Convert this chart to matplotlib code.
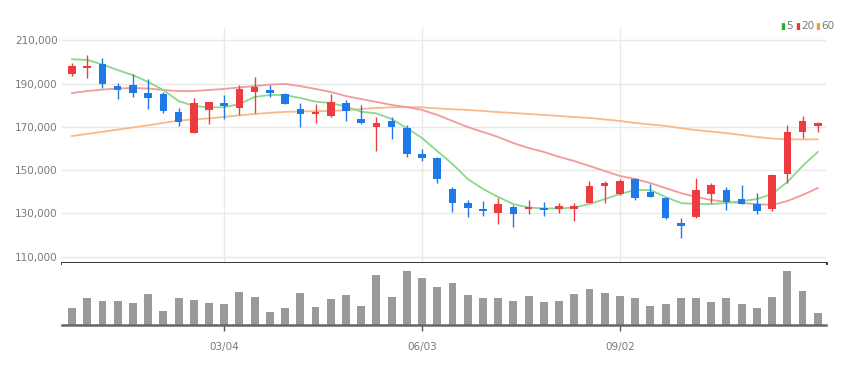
import numpy as np
from matplotlib import pyplot as plt

# weekly candles, 50 weeks
opens = [194300, 197000, 198900, 189000, 189300, 185500, 185000, 177000, 167300, 177900,
         180900, 178500, 185900, 187000, 185000, 178200, 175900, 175000, 180900, 173600,
         170000, 172800, 169300, 157400, 155500, 141300, 134700, 132000, 130000, 133100,
         131900, 132400, 131900, 131900, 134900, 142800, 139000, 145700, 140000, 137300,
         125400, 128200, 138800, 140800, 136500, 134200, 131900, 148100, 167700, 170500]
highs = [199500, 203200, 201600, 190100, 194400, 191900, 186200, 178500, 183400, 181500,
         184700, 189300, 193100, 189300, 185500, 180900, 180400, 185200, 182400, 180000,
         174700, 174700, 170800, 159700, 156200, 142300, 136200, 135900, 137000, 133900,
         136200, 135400, 134900, 134900, 145100, 145100, 145700, 146200, 143600, 137700,
         127700, 146200, 143900, 142300, 143100, 139300, 148100, 170800, 175100, 172400]
lows = [193500, 192700, 187800, 182700, 183900, 178200, 176500, 170400, 167000, 171300,
        173600, 175500, 176200, 183900, 180500, 170000, 171900, 174700, 172700, 171500,
        159000, 164400, 155900, 154200, 144200, 130800, 128500, 128900, 125100, 123900,
        129700, 128900, 130000, 126600, 134700, 134900, 138500, 136200, 137400, 127300,
        118800, 127700, 134700, 131600, 134300, 129700, 131100, 144200, 165000, 167700]
closes = [198200, 198200, 189800, 187000, 185800, 183400, 177400, 172400, 180900, 181300,
          179800, 187300, 188500, 185800, 180500, 175800, 177000, 181300, 177300, 171600,
          171600, 169800, 157400, 155500, 145700, 134900, 132400, 131000, 134200, 129700,
          132800, 131600, 133400, 133400, 142800, 143900, 145100, 137000, 137400, 128000,
          124200, 140800, 143100, 135100, 134300, 131200, 147700, 167500, 172700, 171600]
volumes = [173, 267, 240, 240, 217, 310, 140, 273, 250, 223,
           207, 333, 283, 133, 167, 323, 183, 257, 303, 190,
           500, 283, 540, 473, 383, 423, 303, 273, 267, 240,
           290, 233, 240, 307, 357, 317, 290, 273, 190, 207,
           273, 267, 233, 267, 207, 167, 283, 540, 340, 123]

ma5 = [201200, 200900, 198800, 196200, 193900, 190700, 187000, 181900, 179600, 179000,
       179000, 180500, 183800, 184700, 184700, 183300, 181600, 181000, 179300, 177000,
       176200, 173600, 169400, 164800, 158800, 152800, 145900, 141300, 137600, 134300,
       132700, 132300, 132300, 132700, 134300, 136600, 139000, 140800, 140800, 137600,
       134800, 134300, 134300, 134800, 135700, 136600, 139000, 144500, 151900, 158400]
ma20 = [185600, 186500, 187200, 187700, 187900, 187700, 187000, 186500, 186500, 187000,
        187500, 188200, 188800, 189500, 189800, 188800, 187500, 186100, 184200, 182800,
        181500, 180100, 179100, 177800, 175500, 172700, 169900, 167600, 165300, 162500,
        160200, 158400, 156100, 154200, 151900, 149600, 147300, 145900, 144000, 141700,
        139400, 137600, 136200, 135300, 134800, 134300, 133900, 135700, 138500, 141700]
ma60 = [165750, 166700, 167700, 168700, 169700, 170700, 171800, 172900, 173400, 173900,
        174600, 175300, 175900, 176500, 176900, 177100, 177200, 177300, 177700, 178200,
        178700, 179000, 179100, 179000, 178500, 178100, 177800, 177300, 176800, 176400,
        175900, 175500, 175000, 174500, 174100, 173400, 172700, 171800, 171100, 170400,
        169400, 168500, 167800, 167100, 166200, 165300, 164600, 164200, 164200, 164200]

tick_idx = [10, 23, 36]
tick_labels = ['03/04', '06/03', '09/02']
price_ticks = [110000, 130000, 150000, 170000, 190000, 210000]

UP = '#ee3b3f'
DOWN = '#1f7ae8'
GRID = '#e9e9e9'
TXT = '#7a7a7a'
plt.rcParams['font.family'] = ['Liberation Sans Narrow', 'DejaVu Sans']

x = np.arange(len(opens))
o = np.array(opens); h = np.array(highs); l = np.array(lows); c = np.array(closes)
up = c >= o
colors = np.where(up, UP, DOWN)

fig = plt.figure(figsize=(8.62, 3.66), dpi=100)
ax = fig.add_axes([0.0719, 0.2814, 0.8863, 0.6421])
axv = fig.add_axes([0.0719, 0.1120, 0.8863, 0.1694], sharex=ax)

# price pane
for yv in price_ticks:
    ax.axhline(yv, color=GRID, lw=1, zorder=0)
for t in tick_idx:
    ax.axvline(t, color=GRID, lw=1, zorder=0)

ax.plot(x, ma60, color='#f7b98a', lw=1.3, zorder=2)
ax.plot(x, ma20, color='#f39a9a', lw=1.3, zorder=2)
ax.plot(x, ma5, color='#8ad98a', lw=1.3, zorder=2)

ax.vlines(x, l, h, colors=colors, lw=1, zorder=3)
body = np.maximum(np.abs(c - o), 700)
ax.bar(x, body, bottom=np.minimum(o, c), width=0.5, color=colors, zorder=4)

ax.set_xlim(-0.66, 49.54)
ax.set_ylim(107090, 215640)
ax.set_yticks(price_ticks)
ax.set_yticklabels([f'{v:,}' for v in price_ticks])
ax.tick_params(axis='y', length=0, pad=3, labelsize=7.5, colors=TXT)
ax.tick_params(axis='x', length=0, labelbottom=False)
for s in ['top', 'right', 'left']:
    ax.spines[s].set_visible(False)
ax.spines['bottom'].set_color('#222222')
ax.spines['bottom'].set_linewidth(2)

# volume pane
axv.bar(x, volumes, width=0.52, color='#9a9a9a', zorder=2)
axv.set_ylim(0, max(volumes) * 62 / 54)
axv.set_yticks([])
axv.set_xticks(tick_idx)
axv.set_xticklabels(tick_labels)
axv.tick_params(axis='x', length=4, width=1, color='#555555', pad=8,
                labelsize=7.5, labelcolor=TXT)
for s in ['top', 'right', 'left']:
    axv.spines[s].set_visible(False)
axv.spines['bottom'].set_color('#666666')
axv.spines['bottom'].set_linewidth(1.8)

# legend
leg = [('5', '#22b522'), ('20', '#e8333a'), ('60', '#f59a3a')]
lx = 780
for lab, col in leg:
    fig.text(lx / 862, 1 - 26 / 366, '\u25ae', color=col, fontsize=6.5,
             va='center', ha='left', family='DejaVu Sans')
    fig.text((lx + 6) / 862, 1 - 26 / 366, lab, color=TXT, fontsize=7.5,
             va='center', ha='left')
    lx += 6 + 5 * len(lab) + 4

fig.savefig('out.png', dpi=100)
